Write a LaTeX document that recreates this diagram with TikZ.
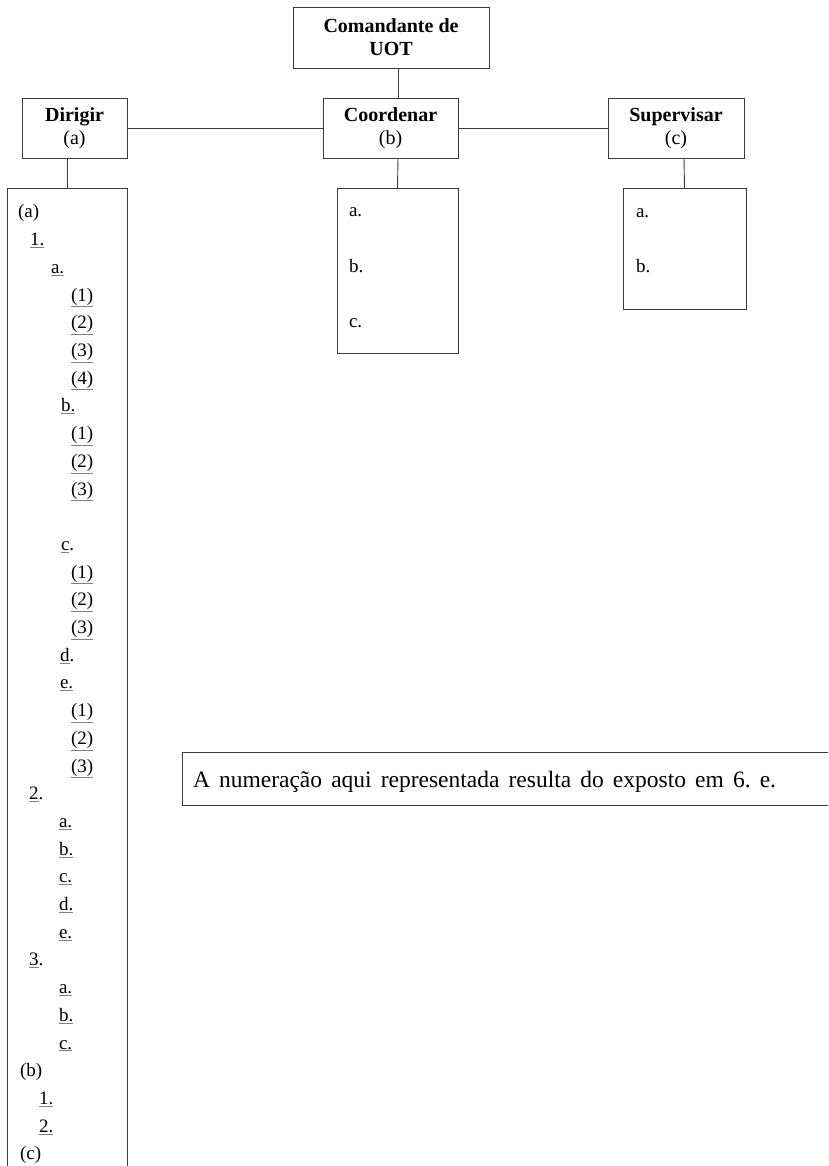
\documentclass[tikz,border=0pt]{standalone}
\usepackage{fontspec}
\setmainfont{Liberation Serif}
\definecolor{linec}{HTML}{3A3A3A}
\newcommand\ulx[1]{\leavevmode\rlap{\color{gray}\underline{\phantom{#1}}}#1}
\frenchspacing
\begin{document}
\begin{tikzpicture}[x=1pt,y=-1pt,
  every node/.style={inner sep=0pt, outer sep=0pt},
  box/.style={draw=linec, line width=0.9pt, rectangle},
  link/.style={draw=linec, line width=0.9pt},
  head/.style={font=\fontsize{20}{23}\selectfont, align=center},
  item/.style={anchor=base west, font=\fontsize{19}{21}\selectfont}]
\useasboundingbox (0,0) rectangle (828,1166);
\clip (0,0) rectangle (828,1166);

% heading boxes
\node[box, head, minimum width=196pt, minimum height=61pt] (cmd) at (391,37.5)
  {\bfseries Comandante de\\\bfseries UOT};
\node[box, head, minimum width=105pt, minimum height=60pt] (dir) at (74.5,128)
  {\bfseries Dirigir\\(a)};
\node[box, head, minimum width=135pt, minimum height=60pt] (coord) at (390.5,128)
  {\bfseries Coordenar\\(b)};
\node[box, head, minimum width=136pt, minimum height=60pt] (sup) at (676,128)
  {\bfseries Supervisar\\(c)};

% list boxes
\node[box, anchor=north, minimum width=120pt, minimum height=1100pt] (dlist) at (67,188) {};
\node[box, anchor=north, minimum width=121pt, minimum height=165pt] (clist) at (397.5,188) {};
\node[box, anchor=north, minimum width=123pt, minimum height=121pt] (slist) at (684.5,188) {};

% connectors
\draw[link] ([xshift=7pt]cmd.south) -- ([xshift=7.5pt]coord.north);
\draw[link] (dir.east) -- (coord.west);
\draw[link] (coord.east) -- (sup.west);
\draw[link] ([xshift=-7.5pt]dir.south) -- (dlist.north);
\draw[link] ([xshift=7.5pt]coord.south) -- (clist.north);
\draw[link] ([xshift=8pt]sup.south) -- (slist.north);

% numbering in the left column
\foreach \i/\x/\t in {0/18/{(a)}, 1/30/{\ulx{1.}}, 2/51/{\ulx{a.}},
  3/71/{\ulx{(1)}}, 4/71/{\ulx{(2)}}, 5/71/{\ulx{(3)}}, 6/71/{\ulx{(4)}},
  7/61/{\ulx{b.}}, 8/71/{\ulx{(1)}}, 9/71/{\ulx{(2)}}, 10/71/{\ulx{(3)}},
  12/61/{\ulx{c}.}, 13/71/{\ulx{(1)}}, 14/71/{\ulx{(2)}}, 15/71/{\ulx{(3)}},
  16/60/{\ulx{d}.}, 17/60/{\ulx{e.}}, 18/71/{\ulx{(1)}}, 19/71/{\ulx{(2)}},
  20/71/{\ulx{(3)}}, 21/29/{\ulx{2}.}, 22/59/{\ulx{a.}}, 23/59/{\ulx{b.}},
  24/59/{\ulx{c.}}, 25/59/{\ulx{d.}}, 26/59/{\ulx{e.}}, 27/29/{\ulx{3}.},
  28/59/{\ulx{a.}}, 29/59/{\ulx{b.}}, 30/59/{\ulx{c.}}, 31/20/{(b)},
  32/39/{\ulx{1.}}, 33/39/{\ulx{2.}}, 34/20/{(c)}}
  \node[item] (d\i) at (\x, 218+27.7*\i) {\t};

% items of the other two columns
\node[item] (ca) at (349,217) {a.};
\node[item] (cb) at (349,272) {b.};
\node[item] (cc) at (349,327) {c.};
\node[item] (sa) at (636,218) {a.};
\node[item] (sb) at (636,272) {b.};

% note
\node[box, anchor=north west, minimum width=700pt, minimum height=53pt] (note) at (182,752) {};
\node[anchor=base west, font=\fontsize{23.5}{25}\selectfont] (notetext) at (193,787)
  {\makebox[583pt][s]{A numeração aqui representada resulta do exposto em 6. e.}};
\end{tikzpicture}
\end{document}
